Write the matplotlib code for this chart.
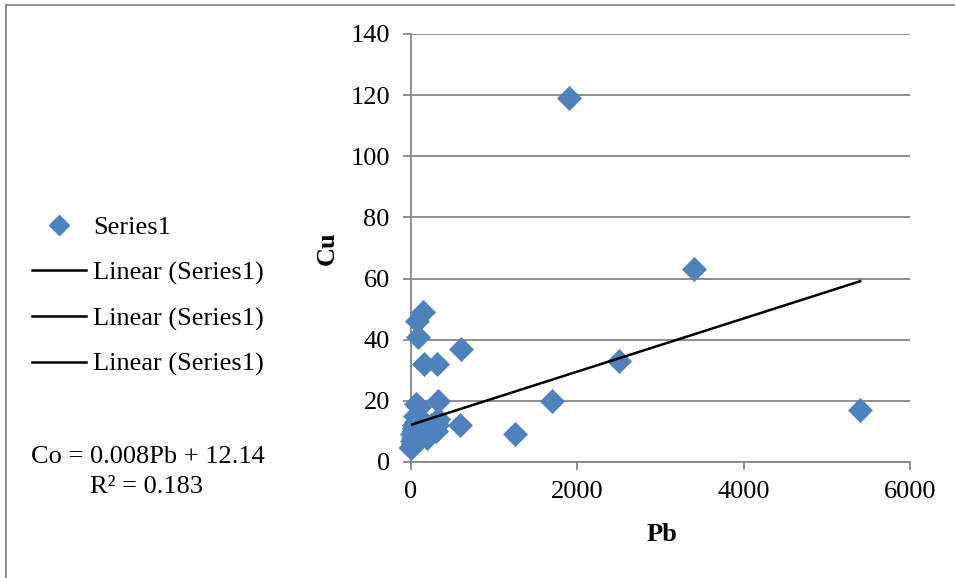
import numpy as np
import matplotlib
matplotlib.use("Agg")
import matplotlib.pyplot as plt
from matplotlib.lines import Line2D

# Pb / Cu concentrations
pb = [1900, 3400, 5400, 2500, 1700, 1250, 600, 590, 330, 320, 160, 150, 80, 90,
      60, 100,
      10, 20, 30, 15, 40, 50, 25, 60, 70, 80, 45, 90, 100, 120, 130, 150, 170,
      200, 220, 250, 280, 300, 310, 320, 330, 35, 55, 5]
cu = [119, 63, 17, 33, 20, 9, 37, 12, 20, 32, 32, 49, 46, 41,
      19, 18,
      5, 7, 8, 9, 10, 11, 6, 12, 13, 8, 11, 9, 10, 12, 14, 9, 11,
      8, 10, 12, 11, 10, 13, 12, 14, 12, 15, 4.5]

# Linear trend (Co = slope*Pb + intercept)
slope = 0.0087
intercept = 12.14
r_squared = 0.183

x_ticks = [0, 2000, 4000, 6000]
y_ticks = [0, 20, 40, 60, 80, 100, 120, 140]

serif = ["Liberation Serif", "DejaVu Serif"]
plt.rcParams["font.family"] = serif
fs = 19

fig = plt.figure(figsize=(9.55, 5.78), dpi=100)
ax = fig.add_axes([0.430, 0.2007, 0.523, 0.7406])

grid_c = "#868686"
ax.set_xlim(0, 6000)
ax.set_ylim(0, 140)
ax.set_xticks(x_ticks)
ax.set_yticks(y_ticks)
ax.yaxis.grid(True, color=grid_c, linewidth=1.3)
ax.set_axisbelow(True)
for s in ("top", "right"):
    ax.spines[s].set_visible(False)
for s in ("left", "bottom"):
    ax.spines[s].set_color(grid_c)
    ax.spines[s].set_linewidth(1.3)
ax.tick_params(axis="both", colors=grid_c, labelcolor="black", labelsize=fs,
               length=6, width=1.3, direction="out")
ax.tick_params(axis="x", pad=8)
ax.tick_params(axis="y", pad=9)

ax.scatter(pb, cu, marker="D", s=150, color="#4F81BD", edgecolors="#4F81BD",
           linewidths=0.5, zorder=3, clip_on=False)
xs = np.array([min(pb), max(pb)])
ax.plot(xs, slope * xs + intercept, color="black", linewidth=1.8, zorder=4)

ax.set_xlabel("Pb", fontsize=fs, fontweight="bold")
ax.set_ylabel("Cu", fontsize=fs, fontweight="bold")
ax.xaxis.set_label_coords(0.503, -0.143)
ax.yaxis.set_label_coords(-0.144, 0.5)

handles = [Line2D([], [], marker="D", linestyle="none", color="#4F81BD",
                  markersize=10)]
handles += [Line2D([], [], color="black", linewidth=1.8) for _ in range(3)]
labels = ["Series1"] + ["Linear (Series1)"] * 3
fig.legend(handles, labels, loc="upper left", bbox_to_anchor=(0.020, 0.650),
           frameon=False, fontsize=fs, handlelength=2.05, handletextpad=0.25,
           labelspacing=0.83, borderpad=0)

slope_shown = np.floor(slope * 1000) / 1000
fig.text(0.155, 1 - 457 / 578, f"Co = {slope_shown:.3f}Pb + {intercept:.2f}",
         ha="center", va="center", fontsize=fs)
fig.text(0.153, 1 - 487 / 578, f"R² = {r_squared:.3f}",
         ha="center", va="center", fontsize=fs)

# frame lines along the top and left edges
fig.add_artist(Line2D([0.0068, 1.0], [0.9913, 0.9913], color="#868686", linewidth=1.3,
                      transform=fig.transFigure))
fig.add_artist(Line2D([0.0068, 0.0068], [0.0, 0.9913], color="#868686", linewidth=1.3,
                      transform=fig.transFigure))

fig.savefig("out.png", dpi=100)
